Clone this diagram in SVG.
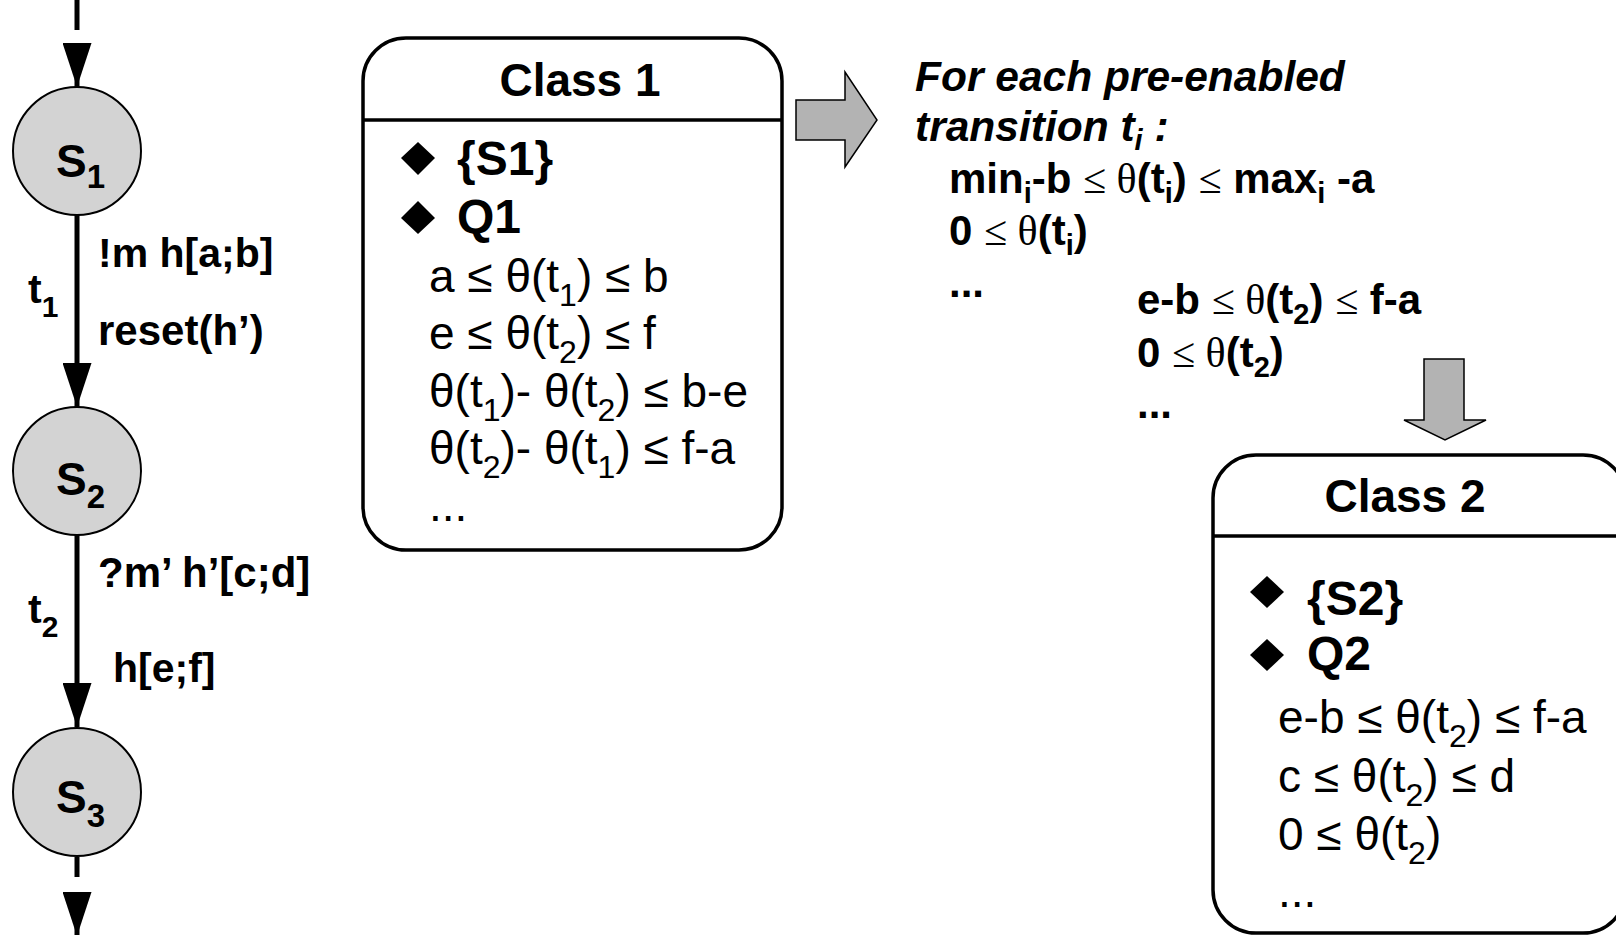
<svg xmlns="http://www.w3.org/2000/svg" width="1616" height="935" viewBox="0 0 1616 935">
<style>
.st{fill:#d3d3d3;stroke:#000;stroke-width:2}
.box{fill:#fff;stroke:#000;stroke-width:3.5}
.blk{fill:#b3b3b3;stroke:#000;stroke-width:1.5}
.b{font-family:"Liberation Sans",Arial,sans-serif;font-weight:bold;fill:#000}
.r{font-family:"Liberation Sans",Arial,sans-serif;fill:#000}
.serif{font-family:"Liberation Serif","Times New Roman",serif;font-weight:normal}
.edge{stroke:#000;stroke-width:5;fill:none}
</style>
<defs>
<marker id="ah" markerWidth="44" markerHeight="29" refX="44" refY="14.5" orient="auto" markerUnits="userSpaceOnUse">
<polygon points="0,0 44,14.5 0,29" fill="#000"/>
</marker>
</defs>

<g id="connectors">
<line class="edge" x1="77" y1="0" x2="77" y2="30"/>
<line class="edge" x1="77" y1="47" x2="77" y2="87" marker-end="url(#ah)"/>
<line class="edge" x1="77" y1="215" x2="77" y2="407" marker-end="url(#ah)"/>
<line class="edge" x1="77" y1="535" x2="77" y2="727" marker-end="url(#ah)"/>
<line class="edge" x1="77" y1="857" x2="77" y2="877"/>
<line class="edge" x1="77" y1="895" x2="77" y2="936" marker-end="url(#ah)"/>
<text class="b" x="98" y="267" font-size="41">!m h[a;b]</text>
<text class="b" x="28" y="303" font-size="41">t<tspan font-size="30" dy="14">1</tspan></text>
<text class="b" x="98" y="345" font-size="42">reset(h’)</text>
<text class="b" x="98" y="587" font-size="42">?m’ h’[c;d]</text>
<text class="b" x="28" y="623" font-size="41">t<tspan font-size="30" dy="14">2</tspan></text>
<text class="b" x="113" y="682" font-size="41">h[e;f]</text>
</g>

<g id="S1">
<circle class="st" cx="77" cy="151" r="64"/>
<text class="b" x="56" y="177" font-size="46">S<tspan font-size="33" dy="11">1</tspan></text>
</g>
<g id="S2">
<circle class="st" cx="77" cy="471" r="64"/>
<text class="b" x="56" y="495" font-size="46">S<tspan font-size="33" dy="13">2</tspan></text>
</g>
<g id="S3">
<circle class="st" cx="77" cy="792" r="64"/>
<text class="b" x="56" y="813" font-size="46">S<tspan font-size="33" dy="14">3</tspan></text>
</g>

<g id="class1">
<rect class="box" x="363" y="38" width="419" height="512" rx="43"/>
<line stroke="#000" stroke-width="3.5" x1="363" y1="120" x2="782" y2="120"/>
<text class="b" x="580" y="96" font-size="46" text-anchor="middle">Class 1</text>
<polygon points="418,142 435,158 418,175 401,158" fill="#000"/>
<text class="b" x="457" y="175" font-size="48">{S1}</text>
<polygon points="418,201 435,218 418,234 401,218" fill="#000"/>
<text class="b" x="457" y="233" font-size="48">Q1</text>
<text class="r" x="429" y="292" font-size="46">a ≤ θ(t<tspan font-size="32" dy="14">1</tspan><tspan dy="-14">) ≤ b</tspan></text>
<text class="r" x="429" y="349" font-size="46">e ≤ θ(t<tspan font-size="32" dy="14">2</tspan><tspan dy="-14">) ≤ f</tspan></text>
<text class="r" x="429" y="407" font-size="46">θ(t<tspan font-size="32" dy="14">1</tspan><tspan dy="-14">)- θ(t</tspan><tspan font-size="32" dy="14">2</tspan><tspan dy="-14">) ≤ b-e</tspan></text>
<text class="r" x="429" y="464" font-size="46">θ(t<tspan font-size="32" dy="14">2</tspan><tspan dy="-14">)- θ(t</tspan><tspan font-size="32" dy="14">1</tspan><tspan dy="-14">) ≤ f-a</tspan></text>
<text class="r" x="429" y="521" font-size="46">...</text>
</g>

<g id="arrow-right">
<polygon class="blk" points="796,100 845,100 845,72 877,120 845,167 845,140 796,140"/>
</g>

<g id="rule-text">
<text class="b" x="915" y="91" font-size="42.5" font-style="italic">For each pre-enabled</text>
<text class="b" x="915" y="141" font-size="42.5" font-style="italic">transition t<tspan font-size="29" dy="9">i</tspan><tspan dy="-9"> :</tspan></text>
<text class="b" x="949" y="193" font-size="42">min<tspan font-size="29" dy="10">i</tspan><tspan dy="-10">-b </tspan><tspan class="serif">≤ θ</tspan>(t<tspan font-size="29" dy="10">i</tspan><tspan dy="-10">) </tspan><tspan class="serif">≤</tspan> max<tspan font-size="29" dy="10">i</tspan><tspan dy="-10"> -a</tspan></text>
<text class="b" x="949" y="245" font-size="42">0 <tspan class="serif">≤ θ</tspan>(t<tspan font-size="29" dy="10">i</tspan><tspan dy="-10">)</tspan></text>
<text class="b" x="949" y="297" font-size="42">...</text>
<text class="b" x="1137" y="314" font-size="42">e-b <tspan class="serif">≤ θ</tspan>(t<tspan font-size="29" dy="10">2</tspan><tspan dy="-10">) </tspan><tspan class="serif">≤</tspan> f-a</text>
<text class="b" x="1137" y="367" font-size="42">0 <tspan class="serif">≤ θ</tspan>(t<tspan font-size="29" dy="10">2</tspan><tspan dy="-10">)</tspan></text>
<text class="b" x="1137" y="418" font-size="42">...</text>
</g>

<g id="arrow-down">
<polygon class="blk" points="1424,359 1464,359 1464,420 1486,420 1445,440 1404,420 1424,420"/>
</g>

<g id="class2">
<rect class="box" x="1213" y="455" width="413" height="478" rx="43"/>
<line stroke="#000" stroke-width="3.5" x1="1213" y1="536" x2="1626" y2="536"/>
<text class="b" x="1405" y="512" font-size="46" text-anchor="middle">Class 2</text>
<polygon points="1267,576 1284,592 1267,608 1250,592" fill="#000"/>
<text class="b" x="1307" y="615" font-size="48">{S2}</text>
<polygon points="1267,639 1284,655 1267,671 1250,655" fill="#000"/>
<text class="b" x="1307" y="670" font-size="48">Q2</text>
<text class="r" x="1278" y="733" font-size="46">e-b ≤ θ(t<tspan font-size="32" dy="14">2</tspan><tspan dy="-14">) ≤ f-a</tspan></text>
<text class="r" x="1278" y="792" font-size="46">c ≤ θ(t<tspan font-size="32" dy="14">2</tspan><tspan dy="-14">) ≤ d</tspan></text>
<text class="r" x="1278" y="850" font-size="46">0 ≤ θ(t<tspan font-size="32" dy="14">2</tspan><tspan dy="-14">)</tspan></text>
<text class="r" x="1278" y="907" font-size="46">...</text>
</g>
</svg>
